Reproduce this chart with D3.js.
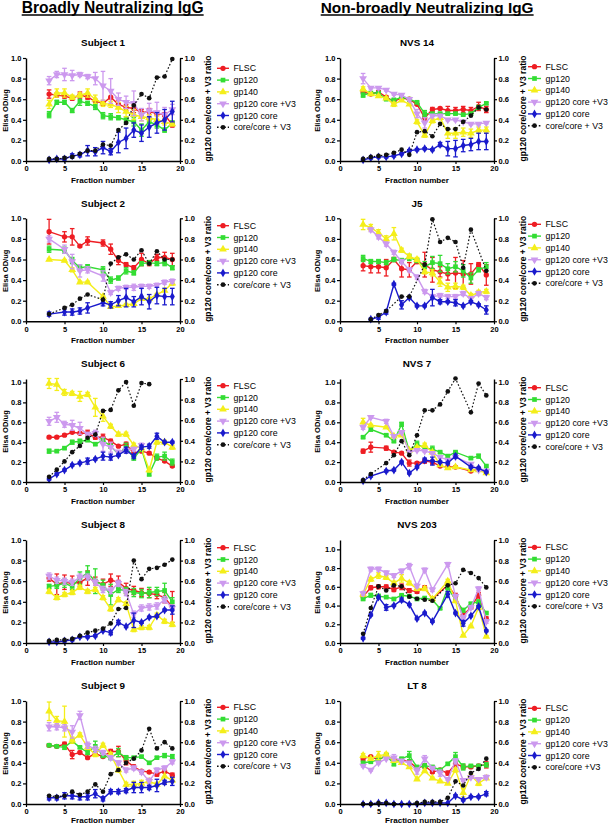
<!DOCTYPE html>
<html><head><meta charset="utf-8">
<script src="https://cdn.jsdelivr.net/npm/d3@7"></script>
<style>
body{margin:0;background:#fff}
svg{display:block}
text{font-family:"Liberation Sans",Arial,Helvetica,sans-serif;fill:#000}
</style>
</head><body>
<svg id="chart" width="608" height="826"></svg>
<script>
// ---------------- DATA ----------------
const fractions = [3,4,5,6,7,8,9,10,11,12,13,14,15,16,17,18,19];
const seriesNames = ["FLSC","gp120","gp140","gp120 core +V3","gp120 core","core/core + V3"];
const xTicks = [0,5,10,15,20];
const yTicks = [0,0.2,0.4,0.6,0.8,1.0];
const groupTitles = ["Broadly Neutralizing IgG","Non-broadly Neutralizing IgG"];
const panelTitles = ["Subject 1","Subject 2","Subject 6","Subject 8","Subject 9","NVS 14","J5","NVS 7","NVS 203","LT 8"];

// Subject 1
const s1_flsc   = [0.65,0.64,0.63,0.61,0.64,0.62,0.58,0.56,0.62,0.55,0.52,0.51,0.47,0.48,0.46,0.45,0.35];
const s1_flsc_e = [0.04,0.02,0.02,0.02,0.03,0.02,0.02,0.02,0.07,0.04,0.03,0.04,0.03,0.03,0.02,0.02,0.02];
const s1_gp120  = [0.45,0.57,0.57,0.49,0.58,0.56,0.53,0.44,0.43,0.42,0.40,0.38,0.30,0.38,0.35,0.30,0.37];
const s1_gp120_e= [0.03,0.02,0.02,0.02,0.04,0.02,0.03,0.03,0.03,0.02,0.03,0.04,0.06,0.04,0.03,0.02,0.02];
const s1_gp140  = [0.55,0.66,0.66,0.62,0.64,0.66,0.60,0.56,0.55,0.52,0.48,0.45,0.43,0.42,0.40,0.38,0.36];
const s1_gp140_e= [0.04,0.04,0.04,0.02,0.02,0.04,0.04,0.03,0.03,0.05,0.05,0.05,0.04,0.03,0.04,0.03,0.02];
const s1_cv3    = [0.78,0.84,0.84,0.83,0.84,0.82,0.80,0.73,0.68,0.60,0.57,0.56,0.45,0.49,0.47,0.45,0.50];
const s1_cv3_e  = [0.04,0.03,0.06,0.05,0.02,0.02,0.06,0.14,0.12,0.06,0.06,0.12,0.06,0.07,0.10,0.07,0.05];
const s1_core   = [0.01,0.02,0.02,0.05,0.06,0.10,0.09,0.13,0.09,0.18,0.22,0.30,0.27,0.33,0.37,0.40,0.48];
const s1_core_e = [0.01,0.01,0.02,0.02,0.02,0.05,0.04,0.06,0.03,0.10,0.10,0.07,0.08,0.10,0.10,0.10,0.10];
const s1_ratio  = [0.02,0.02,0.03,0.04,0.07,0.10,0.10,0.16,0.15,0.30,0.37,0.54,0.65,0.61,0.81,0.82,0.99];

// Subject 2
const s2_flsc   = [0.87,null,0.82,0.82,0.73,0.78,null,0.76,0.70,0.59,0.55,0.52,0.60,0.56,0.62,0.62,0.60];
const s2_flsc_e = [0.12,null,0.05,0.08,0.01,0.04,null,0.03,0.05,0.04,0.02,0.02,0.06,0.02,0.03,0.05,0.06];
const s2_gp120  = [0.70,null,0.69,0.59,0.52,0.53,null,0.50,0.40,0.42,0.49,0.47,0.56,0.57,0.56,0.57,0.52];
const s2_gp120_e= [0.03,null,0.03,0.03,0.03,0.02,null,0.03,0.03,0.02,0.03,0.02,0.02,0.02,0.02,0.03,0.02];
const s2_gp140  = [0.60,null,0.59,0.50,0.38,0.38,null,0.24,0.14,0.15,0.16,0.17,0.22,0.22,0.26,0.30,0.37];
const s2_gp140_e= [0.01,null,0.01,0.02,0.01,0.01,null,0.01,0.01,0.01,0.01,0.01,0.01,0.01,0.01,0.01,0.02];
const s2_cv3    = [0.80,null,0.70,0.58,0.49,0.50,null,0.44,0.28,0.32,0.33,0.33,0.34,0.34,0.35,0.38,0.39];
const s2_cv3_e  = [0.03,null,0.04,0.07,0.06,0.03,null,0.05,0.02,0.02,0.02,0.03,0.02,0.02,0.02,0.02,0.02];
const s2_core   = [0.07,null,0.09,0.09,0.10,0.13,null,0.18,0.16,0.20,0.23,0.19,0.24,0.19,0.25,0.24,0.24];
const s2_core_e = [0.02,null,0.03,0.03,0.03,0.05,null,0.03,0.03,0.05,0.09,0.05,0.08,0.07,0.08,0.08,0.08];
const s2_ratio  = [0.07,null,0.13,0.16,0.22,0.26,null,0.21,0.56,0.62,0.65,0.60,0.69,0.56,0.68,0.60,0.60];

// Subject 6
const s6_flsc   = [0.45,0.45,0.47,0.50,0.49,0.49,0.45,0.45,0.41,0.36,0.38,0.29,0.31,0.29,0.24,0.21,0.16];
const s6_flsc_e = [0.01,0.01,0.01,0.01,0.01,0.03,0.02,0.03,0.02,0.01,0.02,0.01,0.01,0.01,0.01,0.01,0.01];
const s6_gp120  = [0.31,0.31,0.34,0.40,0.41,0.42,0.38,0.42,0.36,0.28,0.35,0.24,0.33,0.08,0.25,0.26,0.20];
const s6_gp120_e= [0.02,0.01,0.01,0.02,0.02,0.01,0.01,0.02,0.02,0.01,0.04,0.02,0.02,0.02,0.03,0.04,0.03];
const s6_gp140  = [0.99,0.98,0.90,0.89,0.86,0.88,0.75,0.66,0.56,0.48,0.48,0.37,0.34,0.12,0.40,0.40,0.35];
const s6_gp140_e= [0.05,0.06,0.03,0.02,0.05,0.02,0.09,0.05,0.02,0.02,0.02,0.02,0.02,0.02,0.02,0.02,0.02];
const s6_cv3    = [0.61,0.65,0.58,0.57,0.54,0.48,0.49,0.38,0.35,0.30,0.32,0.33,0.37,null,null,null,null];
const s6_cv3_e  = [0.04,0.05,0.03,0.05,0.06,0.02,0.03,0.07,0.05,0.02,0.02,0.02,0.02,null,null,null,null];
const s6_core   = [0.03,0.08,0.12,0.17,0.19,0.21,0.23,0.26,0.25,0.27,0.32,0.26,0.35,0.36,0.46,0.40,0.40];
const s6_core_e = [0.01,0.01,0.01,0.01,0.01,0.03,0.01,0.04,0.03,0.01,0.03,0.02,0.02,0.02,0.03,0.01,0.01];
const s6_ratio  = [0.05,0.12,0.20,0.29,0.35,0.43,0.46,0.69,0.70,0.89,0.97,0.74,0.96,0.95,null,null,null];

// Subject 8
const s8_flsc   = [0.63,0.57,0.59,0.58,0.59,0.63,0.60,0.57,0.61,0.59,0.53,0.51,0.49,0.48,0.47,0.44,0.35];
const s8_flsc_e = [0.03,0.10,0.07,0.07,0.04,0.07,0.04,0.05,0.06,0.06,0.05,0.04,0.04,0.04,0.04,0.05,0.15];
const s8_gp120  = [0.55,0.56,0.58,0.55,0.63,0.68,0.60,0.56,0.47,0.52,0.51,0.49,0.48,0.49,0.50,0.51,0.40];
const s8_gp120_e= [0.02,0.03,0.04,0.03,0.06,0.07,0.12,0.05,0.10,0.03,0.03,0.04,0.04,0.05,0.04,0.07,0.04];
const s8_gp140  = [0.50,0.44,0.47,0.49,0.54,0.50,0.52,0.44,0.33,0.42,0.38,0.13,0.15,0.15,0.27,0.21,0.18];
const s8_gp140_e= [0.02,0.02,0.02,0.02,0.02,0.02,0.02,0.02,0.02,0.02,0.02,0.02,0.02,0.02,0.02,0.02,0.02];
const s8_cv3    = [0.65,0.61,0.60,0.59,0.64,0.64,0.59,0.52,0.51,0.58,0.49,0.28,0.34,0.35,0.36,0.42,0.34];
const s8_cv3_e  = [0.03,0.03,0.03,0.03,0.03,0.03,0.03,0.03,0.03,0.03,0.03,0.03,0.03,0.03,0.03,0.03,0.03];
const s8_core   = [0.01,0.01,0.02,0.03,0.06,0.06,0.07,0.12,0.10,0.20,0.16,0.22,0.20,0.25,0.26,0.32,0.32];
const s8_core_e = [0.01,0.01,0.01,0.01,0.01,0.01,0.01,0.01,0.02,0.02,0.01,0.07,0.01,0.01,0.01,0.01,0.04];
const s8_ratio  = [0.02,0.03,0.03,0.04,0.07,0.10,0.12,0.14,0.19,0.33,0.34,0.80,0.62,0.72,0.73,0.76,0.81];

// Subject 9
const s9_flsc   = [0.57,0.56,0.58,0.48,0.50,0.45,0.49,0.46,0.51,0.51,0.42,0.36,0.32,0.31,0.29,0.32,0.28];
const s9_flsc_e = [0.01,0.01,0.02,0.04,0.01,0.01,0.01,0.01,0.02,0.05,0.04,0.02,0.01,0.01,0.02,0.02,0.02];
const s9_gp120  = [0.57,0.56,0.55,0.61,0.55,0.50,0.56,0.47,0.45,0.50,0.45,0.45,0.46,0.40,0.45,0.47,0.46];
const s9_gp120_e= [0.01,0.01,0.02,0.02,0.01,0.02,0.05,0.02,0.02,0.04,0.02,0.01,0.01,0.01,0.01,0.02,0.02];
const s9_gp140  = [0.90,0.81,0.80,0.62,0.67,0.55,0.48,0.57,0.48,0.33,0.19,0.19,0.20,0.22,0.19,0.27,0.23];
const s9_gp140_e= [0.09,0.04,0.15,0.03,0.02,0.02,0.02,0.02,0.02,0.02,0.02,0.03,0.03,0.02,0.02,0.07,0.02];
const s9_cv3    = [0.75,0.75,0.74,0.70,0.86,0.57,0.53,0.50,0.45,0.40,0.33,0.35,0.31,0.22,0.33,0.35,0.41];
const s9_cv3_e  = [0.04,0.03,0.03,0.06,0.04,0.03,0.03,0.02,0.02,0.02,0.02,0.02,0.02,0.03,0.02,0.02,0.02];
const s9_core   = [0.06,0.06,0.08,0.08,0.07,0.07,0.10,0.05,0.12,0.12,0.13,0.16,0.16,0.16,0.18,0.21,0.22];
const s9_core_e = [0.02,0.02,0.03,0.03,0.03,0.03,0.04,0.02,0.02,0.02,0.02,0.05,0.05,0.02,0.06,0.02,0.04];
const s9_ratio  = [0.08,0.07,0.08,0.12,0.09,0.12,0.19,0.12,0.29,0.33,0.40,0.44,0.52,0.73,0.54,0.60,0.54];

// NVS 14
const n14_flsc   = [0.67,0.65,0.67,0.62,0.58,0.61,0.60,0.55,0.42,0.50,0.51,0.49,0.49,0.50,0.49,0.53,0.50];
const n14_flsc_e = [0.02,0.01,0.01,0.01,0.02,0.01,0.01,0.01,0.03,0.02,0.01,0.04,0.03,0.03,0.03,0.04,0.03];
const n14_gp120  = [0.64,0.66,0.66,0.60,0.59,0.62,0.60,0.57,0.46,0.46,0.46,0.46,0.46,0.45,0.46,0.52,0.56];
const n14_gp120_e= [0.02,0.01,0.01,0.01,0.02,0.01,0.01,0.01,0.03,0.01,0.01,0.01,0.01,0.01,0.01,0.02,0.01];
const n14_gp140  = [0.70,0.65,0.63,0.61,0.55,0.59,0.55,0.38,0.25,0.39,0.42,0.27,0.27,0.28,0.27,0.30,0.30];
const n14_gp140_e= [0.02,0.01,0.01,0.01,0.02,0.01,0.01,0.02,0.02,0.02,0.02,0.05,0.05,0.04,0.04,0.03,0.03];
const n14_cv3    = [0.80,0.71,0.71,0.69,0.65,0.64,0.60,0.46,0.37,0.44,0.44,0.40,0.40,0.38,0.36,0.36,0.37];
const n14_cv3_e  = [0.05,0.01,0.01,0.01,0.01,0.01,0.01,0.04,0.05,0.01,0.01,0.01,0.01,0.01,0.01,0.01,0.01];
const n14_core   = [0.01,0.03,0.04,0.04,0.05,0.07,0.10,0.11,0.12,0.11,0.16,0.12,0.12,0.15,0.16,0.19,0.19];
const n14_core_e = [0.01,0.01,0.01,0.01,0.01,0.01,0.01,0.01,0.01,0.01,0.02,0.07,0.08,0.06,0.06,0.08,0.08];
const n14_ratio  = [0.02,0.04,0.05,0.06,0.08,0.11,0.06,0.28,0.29,0.24,0.36,0.31,0.31,0.38,0.44,0.52,0.50];

// J5
const j5_flsc   = [0.54,0.53,0.53,0.52,0.60,0.51,0.50,0.58,0.55,0.50,0.48,0.46,0.47,0.46,0.46,0.55,0.45];
const j5_flsc_e = [0.05,0.06,0.06,0.08,0.02,0.08,0.07,0.02,0.12,0.12,0.05,0.06,0.15,0.13,0.10,0.02,0.10];
const j5_gp120  = [0.61,0.58,0.58,0.57,0.60,0.59,0.62,0.59,0.53,0.57,0.56,0.51,0.53,0.49,0.42,0.50,0.53];
const j5_gp120_e= [0.03,0.02,0.02,0.02,0.02,0.02,0.03,0.02,0.05,0.06,0.08,0.05,0.05,0.06,0.05,0.02,0.04];
const j5_gp140  = [0.94,0.91,0.86,0.80,0.85,0.69,0.63,0.60,0.48,0.47,0.38,0.33,0.34,0.33,0.25,0.28,0.29];
const j5_gp140_e= [0.05,0.03,0.03,0.03,0.06,0.02,0.02,0.02,0.02,0.03,0.04,0.04,0.03,0.02,0.02,0.02,0.02];
const j5_cv3    = [null,0.89,0.82,0.75,0.67,0.58,0.50,0.43,0.29,0.24,0.25,0.24,0.24,0.27,0.22,0.27,0.23];
const j5_cv3_e  = [null,0.02,0.02,0.02,0.02,0.02,0.02,0.02,0.02,0.02,0.02,0.02,0.02,0.02,0.02,0.02,0.02];
const j5_core   = [null,0.02,0.04,0.09,0.36,0.16,0.23,0.15,0.15,0.23,0.19,0.19,0.18,0.15,0.19,0.16,0.11];
const j5_core_e = [null,0.01,0.02,0.02,0.01,0.04,0.01,0.01,0.01,0.08,0.02,0.01,0.03,0.01,0.01,0.01,0.04];
const j5_ratio  = [null,0.02,0.06,0.10,null,0.24,0.24,null,0.55,0.99,0.77,0.81,0.77,0.52,0.89,null,0.49];

// NVS 7
const n7_flsc   = [0.31,0.35,null,0.34,0.30,0.29,0.19,0.19,0.21,0.20,0.16,0.15,0.15,null,0.11,0.13,0.10];
const n7_flsc_e = [0.02,0.05,null,0.02,0.01,0.01,0.03,0.01,0.02,0.02,0.01,0.01,0.01,null,0.01,0.01,0.01];
const n7_gp120  = [0.45,0.53,null,0.47,0.41,0.58,0.31,0.38,0.34,0.33,0.30,0.26,0.30,null,0.24,0.26,0.16];
const n7_gp120_e= [0.01,0.02,null,0.01,0.01,0.02,0.02,0.03,0.02,0.03,0.01,0.01,0.01,null,0.01,0.02,0.01];
const n7_gp140  = [0.60,0.57,null,0.55,0.46,0.47,0.32,0.35,0.37,0.30,0.17,0.14,0.15,null,0.12,0.12,0.09];
const n7_gp140_e= [0.04,0.01,null,0.01,0.01,0.01,0.01,0.01,0.02,0.01,0.01,0.01,0.01,null,0.01,0.01,0.01];
const n7_cv3    = [0.55,0.65,null,0.61,0.46,0.50,0.30,0.32,0.31,0.29,0.25,0.22,0.25,null,0.18,0.12,0.11];
const n7_cv3_e  = [0.02,0.01,null,0.02,0.01,0.01,0.01,0.01,0.01,0.01,0.01,0.01,0.01,null,0.01,0.01,0.01];
const n7_core   = [0.01,0.06,null,0.11,0.12,0.20,0.09,0.15,0.22,0.21,0.20,0.19,0.26,null,0.15,0.14,0.10];
const n7_core_e = [0.01,0.01,null,0.01,0.01,0.01,0.01,0.01,0.02,0.04,0.01,0.01,0.02,null,0.01,0.01,0.01];
const n7_ratio  = [0.02,0.08,null,0.19,0.27,0.41,0.27,0.47,0.72,0.72,0.78,0.91,1.04,null,0.70,0.99,0.87];

// NVS 203
const n203_flsc   = [0.50,0.59,0.60,0.60,0.57,0.60,0.56,0.55,0.59,0.47,null,0.62,0.50,0.30,0.38,0.51,0.26];
const n203_flsc_e = [0.02,0.02,0.02,0.02,0.02,0.03,0.02,0.02,0.02,0.02,null,0.03,0.03,0.03,0.02,0.03,0.02];
const n203_gp120  = [0.47,0.51,0.50,0.49,0.47,0.51,0.50,0.47,0.48,0.46,0.37,0.59,0.46,0.35,0.42,0.44,0.32];
const n203_gp120_e= [0.01,0.02,0.02,0.01,0.01,0.01,0.01,0.01,0.01,0.01,0.01,0.02,0.01,0.02,0.01,0.02,0.01];
const n203_gp140  = [0.52,0.68,0.72,0.70,0.64,0.69,0.64,0.58,0.58,0.47,null,0.66,0.45,0.08,0.18,0.38,0.07];
const n203_gp140_e= [0.02,0.02,0.03,0.02,0.02,0.04,0.02,0.02,0.02,0.02,null,0.02,0.02,0.01,0.01,0.02,0.01];
const n203_cv3    = [0.53,0.79,0.79,0.75,0.72,0.77,0.82,0.61,0.78,0.57,null,0.84,0.50,0.27,0.38,0.58,0.23];
const n203_cv3_e  = [0.02,0.02,0.02,0.02,0.02,0.02,0.03,0.02,0.02,0.02,null,0.02,0.02,0.02,0.02,0.02,0.02];
const n203_core   = [0.05,0.30,0.49,0.38,0.40,0.46,0.41,0.26,0.32,0.23,null,0.52,0.32,0.21,0.29,0.39,0.13];
const n203_core_e = [0.01,0.01,0.01,0.03,0.01,0.02,0.01,0.01,0.01,0.01,null,0.03,0.01,0.03,0.01,0.01,0.01];
const n203_ratio  = [0.09,0.34,0.55,0.51,0.56,0.55,0.45,0.43,0.42,0.41,null,0.56,0.58,0.71,0.68,0.63,0.54];

// LT 8
const lt8_flsc   = [0.44,0.46,0.43,0.47,0.43,0.43,0.41,0.35,0.37,0.31,0.33,0.30,0.39,0.36,0.36,0.37,0.38];
const lt8_flsc_e = [0.02,0.01,0.02,0.01,0.02,0.01,0.02,0.02,0.02,0.01,0.01,0.02,0.03,0.02,0.01,0.01,0.03];
const lt8_gp120  = [0.40,0.41,0.43,0.47,0.39,0.44,0.47,0.36,0.37,0.36,0.33,0.39,0.46,0.36,0.37,0.37,0.38];
const lt8_gp120_e= [0.01,0.01,0.01,0.02,0.02,0.01,0.04,0.01,0.02,0.01,0.01,0.01,0.04,0.03,0.01,0.01,0.02];
const lt8_gp140  = [0.47,0.44,0.47,0.48,0.42,0.40,0.36,0.24,0.32,0.25,0.22,0.20,0.33,0.11,0.28,0.20,0.25];
const lt8_gp140_e= [0.02,0.01,0.04,0.02,0.01,0.01,0.01,0.01,0.01,0.01,0.01,0.01,0.02,0.04,0.01,0.02,0.01];
const lt8_cv3    = [0.37,0.33,0.40,0.44,0.45,0.42,0.40,0.32,0.44,0.35,0.30,0.24,0.42,0.23,0.26,0.24,0.26];
const lt8_cv3_e  = [0.01,0.01,0.01,0.01,0.03,0.01,0.01,0.03,0.03,0.01,0.03,0.01,0.02,0.01,0.01,0.01,0.02];
const lt8_core   = [0.00,0.00,0.01,0.01,0.00,0.00,0.00,0.00,0.01,0.01,0.01,0.01,0.08,0.04,0.07,0.07,0.10];
const lt8_core_e = [0.00,0.00,0.00,0.00,0.00,0.00,0.00,0.00,0.00,0.00,0.00,0.00,0.01,0.01,0.01,0.01,0.02];
const lt8_ratio  = [0.00,0.00,0.01,0.01,0.00,null,null,0.01,0.02,0.02,0.02,0.06,0.22,0.18,0.30,0.34,0.44];

// per-panel axis maxima (left OD axis, right ratio axis)
const leftMax  = [1,1,1.035,1,1, 1,1,1.035,1.1,1];
const rightMax = [1,1,1,1,1, 1,1,1.035,1,1];
const lastLegendLabel = ["core/core + V3","core/core + V3","core/core + V3","core/core + V3","core/core + V3",
                         "core/core + V3","core/core + V3","core/core + V3","core/core + V3","core/core +V3"];

const panelSeries = [
  [[s1_flsc,s1_flsc_e],[s1_gp120,s1_gp120_e],[s1_gp140,s1_gp140_e],[s1_cv3,s1_cv3_e],[s1_core,s1_core_e],[s1_ratio,null]],
  [[s2_flsc,s2_flsc_e],[s2_gp120,s2_gp120_e],[s2_gp140,s2_gp140_e],[s2_cv3,s2_cv3_e],[s2_core,s2_core_e],[s2_ratio,null]],
  [[s6_flsc,s6_flsc_e],[s6_gp120,s6_gp120_e],[s6_gp140,s6_gp140_e],[s6_cv3,s6_cv3_e],[s6_core,s6_core_e],[s6_ratio,null]],
  [[s8_flsc,s8_flsc_e],[s8_gp120,s8_gp120_e],[s8_gp140,s8_gp140_e],[s8_cv3,s8_cv3_e],[s8_core,s8_core_e],[s8_ratio,null]],
  [[s9_flsc,s9_flsc_e],[s9_gp120,s9_gp120_e],[s9_gp140,s9_gp140_e],[s9_cv3,s9_cv3_e],[s9_core,s9_core_e],[s9_ratio,null]],
  [[n14_flsc,n14_flsc_e],[n14_gp120,n14_gp120_e],[n14_gp140,n14_gp140_e],[n14_cv3,n14_cv3_e],[n14_core,n14_core_e],[n14_ratio,null]],
  [[j5_flsc,j5_flsc_e],[j5_gp120,j5_gp120_e],[j5_gp140,j5_gp140_e],[j5_cv3,j5_cv3_e],[j5_core,j5_core_e],[j5_ratio,null]],
  [[n7_flsc,n7_flsc_e],[n7_gp120,n7_gp120_e],[n7_gp140,n7_gp140_e],[n7_cv3,n7_cv3_e],[n7_core,n7_core_e],[n7_ratio,null]],
  [[n203_flsc,n203_flsc_e],[n203_gp120,n203_gp120_e],[n203_gp140,n203_gp140_e],[n203_cv3,n203_cv3_e],[n203_core,n203_core_e],[n203_ratio,null]],
  [[lt8_flsc,lt8_flsc_e],[lt8_gp120,lt8_gp120_e],[lt8_gp140,lt8_gp140_e],[lt8_cv3,lt8_cv3_e],[lt8_core,lt8_core_e],[lt8_ratio,null]]
];

// ---------------- STYLE / LAYOUT ----------------
const colors = ["#ee1d23","#33dd33","#f4ee1a","#cc99ee","#1a1acc","#111111"];
const symbols = [d3.symbolCircle,d3.symbolSquare,d3.symbolTriangle,d3.symbolTriangle,d3.symbolDiamond,d3.symbolCircle];
const symSize = [22,22,26,26,22,17];
const symRot  = [0,0,0,180,0,0];

const colX0 = [26,340];
const plotW = 154;
const rowTop = [58,218.3,379,540,701];
const plotH = 103;
const legendLineX = [[217,229,233.5],[528,541,545.5]];
const legendTop = [[68.3,225.7,385.7,547.7,707.3],[66.7,224.3,387.7,547.3,708.3]];
const legendStep = 11.8;
const rightLabelX = [208,523];
const leftLabelX = [5.5,317.5];

const svg = d3.select("#chart");

// group headers
groupTitles.forEach((t,i)=>{
  const x = [21.7,320.7][i];
  const tx = svg.append("text").attr("x",x).attr("y",12.5)
    .attr("font-size",i===0?15.6:15.4).attr("font-weight","bold").text(t);
  const w = tx.node().getComputedTextLength();
  svg.append("line").attr("x1",x).attr("x2",x+w).attr("y1",15).attr("y2",15)
    .attr("stroke","#000").attr("stroke-width",1.4);
});

panelTitles.forEach((title,p)=>{
  const col = p<5?0:1, row = p%5;
  const X0 = colX0[col], top = rowTop[row], bot = top+plotH;
  const x = d3.scaleLinear().domain([0,20]).range([X0,X0+plotW]);
  const yL = d3.scaleLinear().domain([0,leftMax[p]]).range([bot,top]);
  const yR = d3.scaleLinear().domain([0,rightMax[p]]).range([bot,top]);
  const g = svg.append("g");

  // title
  g.append("text").attr("x",X0+plotW/2).attr("y",top-11.8).attr("text-anchor","middle")
    .attr("font-size",9.9).attr("font-weight","bold").text(title);

  // series
  panelSeries[p].forEach((pair,si)=>{
    const vals = pair[0], errs = pair[1];
    const yS = si===5 ? yR : yL;
    const pts = fractions.map((f,i)=>({f, v: vals[i], e: errs ? errs[i] : null})).filter(d=>d.v!==null);
    const sg = g.append("g");
    // error bars
    if (errs) {
      pts.filter(d=>d.e).forEach(d=>{
        const cx = x(d.f), y1 = yS(d.v+d.e), y2 = yS(Math.max(0,d.v-d.e));
        sg.append("line").attr("x1",cx).attr("x2",cx).attr("y1",y1).attr("y2",y2)
          .attr("stroke",colors[si]).attr("stroke-width",1.3);
        [y1,y2].forEach(yy=>sg.append("line").attr("x1",cx-2.3).attr("x2",cx+2.3).attr("y1",yy).attr("y2",yy)
          .attr("stroke",colors[si]).attr("stroke-width",1.3));
      });
    }
    const line = d3.line().x(d=>x(d.f)).y(d=>yS(d.v));
    sg.append("path").attr("d",line(pts)).attr("fill","none").attr("stroke",colors[si])
      .attr("stroke-width",si===5?1.2:1.4)
      .attr("stroke-dasharray",si===5?"1.6,2":null);
    const sym = d3.symbol().type(symbols[si]).size(symSize[si]);
    sg.selectAll("path.m").data(pts).join("path").attr("class","m")
      .attr("d",sym).attr("fill",colors[si])
      .attr("transform",d=>`translate(${x(d.f)},${yS(d.v)}) rotate(${symRot[si]})`);
  });

  // axes
  const ax = g.append("g").attr("transform",`translate(0,${bot})`)
    .call(d3.axisBottom(x).tickValues(xTicks).tickSize(3).tickSizeOuter(0).tickPadding(2));
  const ayL = g.append("g").attr("transform",`translate(${X0},0)`)
    .call(d3.axisLeft(yL).tickValues(yTicks).tickFormat(d3.format(".1f")).tickSize(3).tickSizeOuter(0).tickPadding(1.5));
  const ayR = g.append("g").attr("transform",`translate(${X0+plotW},0)`)
    .call(d3.axisRight(yR).tickValues(yTicks).tickFormat(d3.format(".1f")).tickSize(3).tickSizeOuter(0).tickPadding(1.5));
  [ax,ayL,ayR].forEach(a=>{
    a.select(".domain").attr("stroke","#000").attr("stroke-width",1.4);
    a.selectAll(".tick line").attr("stroke","#000").attr("stroke-width",1.2);
    a.selectAll(".tick text").attr("font-size",7.5).attr("font-weight","bold")
      .attr("font-family","Liberation Sans, Arial, sans-serif").attr("fill","#000");
  });

  // axis titles
  g.append("text").attr("x",X0+plotW/2).attr("y",Math.min(bot+21.5,823)).attr("text-anchor","middle")
    .attr("font-size",8.1).attr("font-weight","bold").text("Fraction number");
  g.append("text").attr("transform",`translate(${leftLabelX[col]},${(top+bot)/2+1}) rotate(-90)`)
    .attr("text-anchor","middle").attr("dy","0.35em")
    .attr("font-size",7.6).attr("font-weight","bold").text("Elisa OD/ug");
  g.append("text").attr("transform",`translate(${rightLabelX[col]},${(top+bot)/2-1}) rotate(-90)`)
    .attr("text-anchor","middle").attr("dy","0.35em")
    .attr("font-size",8.5).attr("font-weight","bold").text("gp120 core/core + V3 ratio");

  // legend
  const [lx1,lx2,tx] = legendLineX[col];
  seriesNames.forEach((name,si)=>{
    const ly = legendTop[col][row] + si*legendStep;
    g.append("line").attr("x1",lx1).attr("x2",lx2).attr("y1",ly).attr("y2",ly)
      .attr("stroke",colors[si]).attr("stroke-width",1.4)
      .attr("stroke-dasharray",si===5?"1.6,2":null);
    g.append("path").attr("d",d3.symbol().type(symbols[si]).size(symSize[si])())
      .attr("fill",colors[si])
      .attr("transform",`translate(${(lx1+lx2)/2},${ly}) rotate(${symRot[si]})`);
    g.append("text").attr("x",tx).attr("y",ly).attr("dy","0.35em")
      .attr("font-size",8.8).text(si===5?lastLegendLabel[p]:name);
  });
});
</script>
</body></html>
